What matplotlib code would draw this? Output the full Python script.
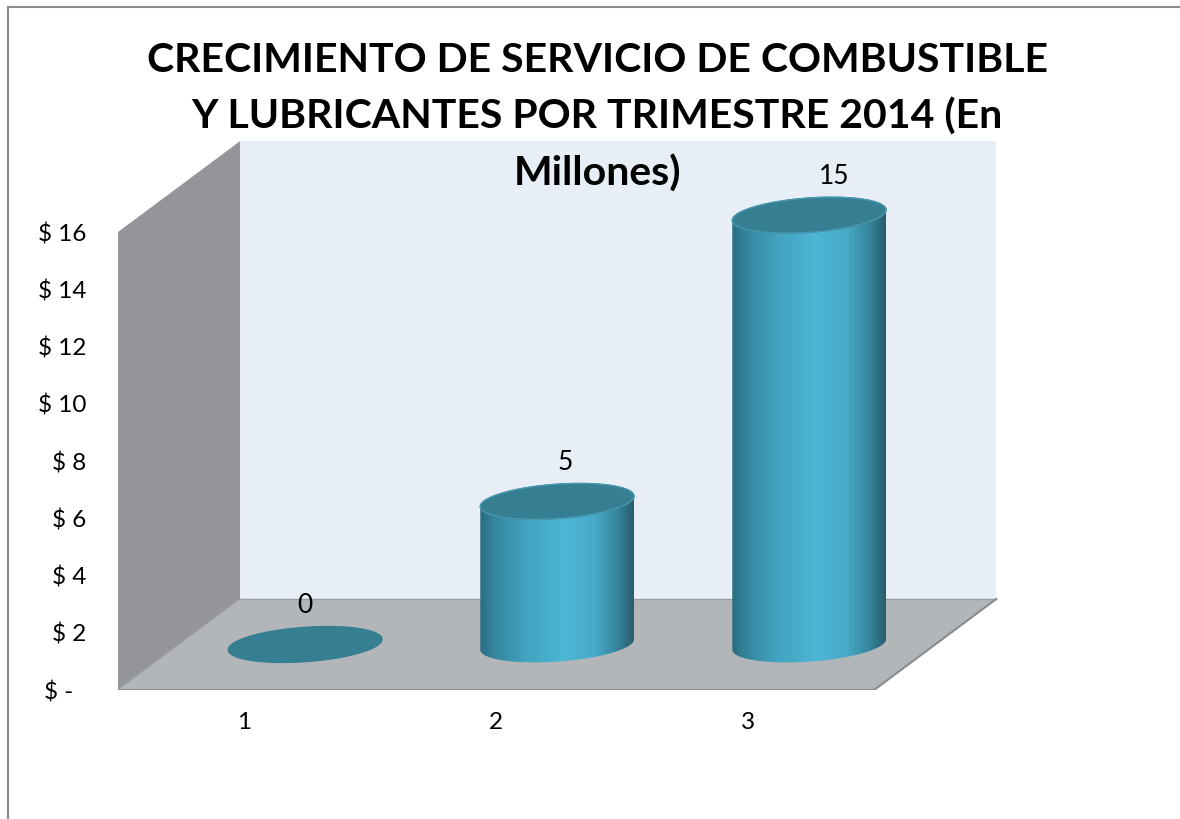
import numpy as np
import matplotlib.pyplot as plt
from matplotlib.patches import Polygon, PathPatch
from matplotlib.path import Path
from matplotlib.colors import LinearSegmentedColormap
from matplotlib.lines import Line2D

# datos
trimestres = [1, 2, 3]
valores = [0, 5, 15]
etiquetas = ["0", "5", "15"]
y_ticks = [0, 2, 4, 6, 8, 10, 12, 14, 16]
y_labels = ["$ -\u00a0\u00a0", "$ 2", "$ 4", "$ 6", "$ 8", "$ 10", "$ 12", "$ 14", "$ 16"]
titulo = ["CRECIMIENTO DE SERVICIO DE COMBUSTIBLE",
          "Y LUBRICANTES POR TRIMESTRE 2014 (En",
          "Millones)"]

plt.rcParams['font.family'] = ['Lato', 'DejaVu Sans']

fig = plt.figure(figsize=(11.8, 8.19), dpi=100)
ax = fig.add_axes([0.1, 0.1575, 0.7475, 0.699])

# profundidad del "3D"
DX = 0.485
DY = 3.18
x0, x1 = 0.5, 3.5
ymax = 16

# paredes
pared_izq = Polygon([(x0, 0), (x0 + DX, DY), (x0 + DX, ymax + DY), (x0, ymax)],
                    closed=True, facecolor="#939598", edgecolor="none", zorder=1)
pared_fondo = Polygon([(x0 + DX, DY), (x1 + DX, DY), (x1 + DX, ymax + DY), (x0 + DX, ymax + DY)],
                      closed=True, facecolor="#E8EEF5", edgecolor="none", zorder=1)
piso = Polygon([(x0, 0), (x1, 0), (x1 + DX, DY), (x0 + DX, DY)],
               closed=True, facecolor="#B3B6B9", edgecolor="none", zorder=2)
for p in (pared_izq, pared_fondo, piso):
    ax.add_patch(p)
ax.plot([x0, x1, x1 + DX], [0, 0, DY], color="#8A8B8D", lw=1.5, zorder=3)
ax.plot([x0 + DX, x1 + DX], [DY, DY], color="#9C9EA0", lw=1, zorder=2)
ax.plot([x0, x0 + DX], [0, DY], color="#A5A8AB", lw=0.8, zorder=2)

# cilindros
rx = 0.305
ry = 0.6
k = 0.6  # inclinacion de las elipses
t = np.linspace(0, 2 * np.pi, 200)
grad = LinearSegmentedColormap.from_list("cil", [
    (0.0, "#2A6D80"), (0.1, "#3587A0"), (0.3, "#42A4C0"), (0.55, "#4DB6D4"),
    (0.75, "#47AAC6"), (0.9, "#36839A"), (1.0, "#275D6C")])

def elipse(cx, cy, a, b):
    ex = a * np.cos(t)
    ey = b * np.sin(t) + k * ex
    return cx + ex, cy + ey

for x, v, lab in zip(trimestres, valores, etiquetas):
    cx = x + 0.5 * DX
    base = 0.5 * DY
    top = base + v
    if v > 0:
        ang_bot = np.linspace(np.pi, 2 * np.pi, 100)
        ang_top = np.linspace(0, np.pi, 100)
        bx = cx + rx * np.cos(ang_bot)
        by = base + ry * np.sin(ang_bot) + k * rx * np.cos(ang_bot)
        tx = cx + rx * np.cos(ang_top)
        ty = top + ry * np.sin(ang_top) + k * rx * np.cos(ang_top)
        verts = np.column_stack([np.r_[bx, tx], np.r_[by, ty]])
        sil = PathPatch(Path(np.vstack([verts, verts[:1]]), closed=True),
                        facecolor="none", edgecolor="none", zorder=4)
        ax.add_patch(sil)
        im = ax.imshow(np.linspace(0, 1, 256).reshape(1, -1), cmap=grad, aspect="auto",
                       extent=[cx - rx, cx + rx, base - 2, top + 2], zorder=4,
                       interpolation="bilinear")
        im.set_clip_path(sil)
    ex, ey = elipse(cx, top, rx, ry)
    ax.fill(ex, ey, color="#367F93", zorder=5)
    if v > 0:
        ax.plot(ex, ey, color="#4A9CB3", lw=0.8, zorder=5)
    ax.text(cx + 0.0065 * v, top + 1.1, lab, ha="center", va="baseline",
            fontsize=19, color="black", zorder=6)

ax.set_xlim(0.5, 4.0)
ax.set_ylim(0, 20)
ax.set_xticks(trimestres)
ax.set_xticklabels([str(x) for x in trimestres])
ax.set_yticks(y_ticks)
ax.set_yticklabels(y_labels)
ax.tick_params(axis="both", length=0, labelsize=17.5)
ax.tick_params(axis="y", pad=23)
ax.tick_params(axis="x", pad=16)
for s in ax.spines.values():
    s.set_visible(False)
ax.patch.set_visible(False)

# titulo, una linea por texto
for i, linea in enumerate(titulo):
    fig.text(0.506, 1 - (60 + 57 * i) / 819, linea, ha="center", va="center",
             fontsize=29.5, fontweight="bold")

# marco del grafico
fig.add_artist(Line2D([7.5 / 1180, 7.5 / 1180], [0, 1 - 6.5 / 819], color="#8C8C8C", lw=1.5))
fig.add_artist(Line2D([7.5 / 1180, 1], [1 - 6.5 / 819, 1 - 6.5 / 819], color="#8C8C8C", lw=1.5))

plt.savefig("out.png", dpi=100)
